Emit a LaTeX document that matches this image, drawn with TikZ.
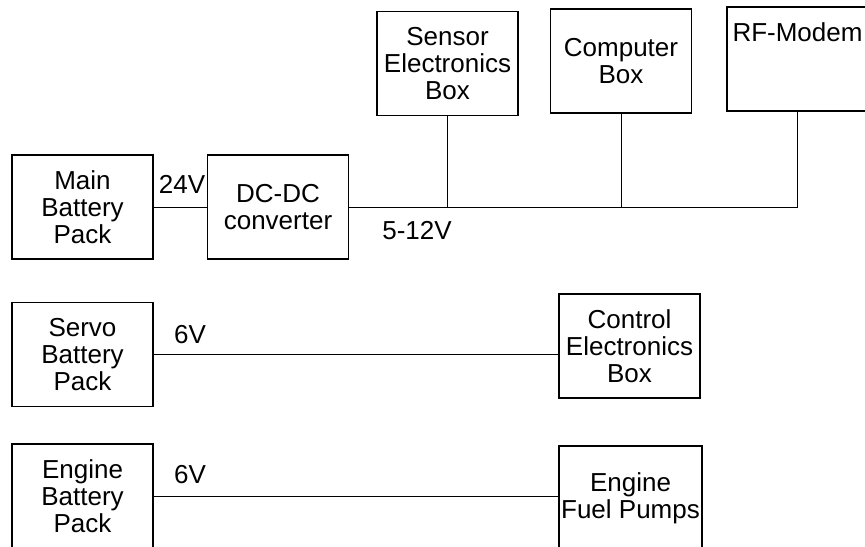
\documentclass[tikz,border=0pt]{standalone}
\usepackage{fontspec}
\setmainfont{Liberation Sans}
\usepackage{tikz}

\begin{document}
\begin{tikzpicture}[x=0.5pt,y=-0.5pt,
  box/.style={draw,line width=0.7pt,align=center,inner sep=0pt,minimum width=70.5pt,minimum height=52pt,font=\fontsize{13}{13.5}\selectfont},
  volt/.style={inner sep=0pt,font=\fontsize{13}{13.5}\selectfont},
  wire/.style={line width=0.5pt}]
\useasboundingbox (0,0) rectangle (865,546);
\clip (0,0) rectangle (865,546);
\node[box] (main) at (82.5,207) {Main\\Battery\\Pack};
\node[box] (dcdc) at (278,207) {DC-DC\\converter};
\node[box] (sensor) at (447.5,63.5) {Sensor\\Electronics\\Box};
\node[box] (comp) at (621,61) {Computer\\Box};
\node[box] (rf) at (797.5,59) {RF-Modem\\~\\~};
\node[box] (servo) at (82.5,354.5) {Servo\\Battery\\Pack};
\node[box] (ctrl) at (629.5,346) {Control\\Electronics\\Box};
\node[box] (engine) at (82.5,496) {Engine\\Battery\\Pack};
\node[box,minimum width=71.5pt] (pumps) at (630.5,498) {Engine\\Fuel Pumps};
\node[volt] (v24) at (182,184) {24V};
\node[volt] (v512) at (417,231) {5-12V};
\node[volt] (v6a) at (190,335) {6V};
\node[volt] (v6b) at (190,475) {6V};
% 5-12V bus
\coordinate (busend) at (rf.south |- dcdc.east);
\draw[wire] (main.east) -- (dcdc.west);
\draw[wire] (dcdc.east) -- (busend) -- (rf.south);
\draw[wire] (sensor.south) -- (sensor.south |- dcdc.east);
\draw[wire] (comp.south) -- (comp.south |- dcdc.east);
\draw[wire] (servo.east) -- (servo.east -| ctrl.west);
\draw[wire] (engine.east) -- (engine.east -| pumps.west);
\end{tikzpicture}
\end{document}
